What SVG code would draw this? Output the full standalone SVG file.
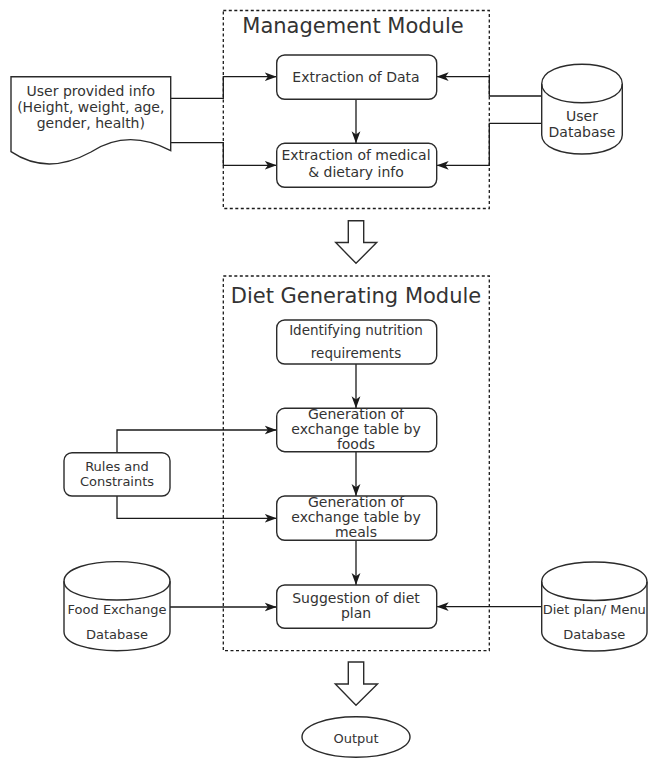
<svg xmlns="http://www.w3.org/2000/svg" width="648" height="758" viewBox="0 0 648 758">
<style>
.bg{fill:#ffffff}
.mod{fill:none;stroke:#1a1a1a;stroke-width:1.3;stroke-dasharray:3 2.5}
.box{fill:#ffffff;stroke:#2b2b2b;stroke-width:1.4}
.ln{fill:none;stroke:#1a1a1a;stroke-width:1.3}
.arr{fill:none;stroke:#1a1a1a;stroke-width:1.3;marker-end:url(#ah)}
.t{font-family:"DejaVu Sans","Liberation Sans",sans-serif;font-size:14px;fill:#333333;text-anchor:middle}
.s13{font-size:13px}
.s135{font-size:13.5px}
.ttl{font-family:"DejaVu Sans","Liberation Sans",sans-serif;font-size:21px;fill:#333333;text-anchor:middle}
</style>
<defs>
<marker id="ah" viewBox="0 0 12 10" refX="12" refY="5" markerWidth="12" markerHeight="10" markerUnits="userSpaceOnUse" orient="auto">
<path d="M0,0.6 L12,5 L0,9.4 L3.2,5 Z" fill="#1a1a1a"/>
</marker>
</defs>
<rect class="bg" x="0" y="0" width="648" height="758"/>

<g id="management-module">
<rect class="mod" x="223.3" y="10.5" width="266" height="198"/>
<text class="ttl" x="353" y="33.3">Management Module</text>
</g>

<g id="diet-module">
<rect class="mod" x="223.3" y="276" width="266" height="374.7"/>
<text class="ttl" x="356" y="303.3">Diet Generating Module</text>
</g>

<g id="connectors">
<path class="arr" d="M170.7,98.3 H223.3 V76.7 H276.7"/>
<path class="arr" d="M170.7,142.7 H223.3 V165.3 H276.7"/>
<path class="arr" d="M541.7,96 H489.3 V76.7 H436.7"/>
<path class="arr" d="M541.7,123.3 H489.3 V165.3 H436.7"/>
<path class="arr" d="M356,99.3 V143.3"/>
<path class="arr" d="M356,364 V408.3"/>
<path class="arr" d="M356,451.7 V496"/>
<path class="arr" d="M356,540.3 V585"/>
<path class="arr" d="M117,452.7 V430 H276.7"/>
<path class="arr" d="M117,496 V518.3 H276.7"/>
<path class="arr" d="M170,607 H276.7"/>
<path class="arr" d="M541.7,606.7 H436.7"/>
<path class="box" d="M348.3,220.7 H363.7 V242.5 H376.7 L356,263.3 L335.7,242.5 H348.3 Z"/>
<path class="box" d="M348.3,662 H363.7 V684 H377.5 L356,705.3 L335.3,684 H348.3 Z"/>
</g>

<g id="user-info">
<path class="box" d="M11,76.7 H170.7 V150.7 Q128,128 91,152 Q47,176 11,151.7 Z"/>
<text class="t" x="90.8" y="96">User provided info</text>
<text class="t" x="90.8" y="111.7">(Height, weight, age,</text>
<text class="t" x="90.8" y="128.3">gender, health)</text>
</g>

<g id="extraction-data">
<rect class="box" x="276.7" y="55" width="160" height="44.3" rx="8"/>
<text class="t" x="356" y="81.5">Extraction of Data</text>
</g>

<g id="extraction-medical">
<rect class="box" x="276.7" y="143.3" width="160" height="44" rx="8"/>
<text class="t" x="356" y="160">Extraction of medical</text>
<text class="t" x="356" y="176.7">&amp; dietary info</text>
</g>

<g id="user-database">
<path class="box" d="M541.7,84 C541.7,57.7 622.3,57.7 622.3,84 L622.3,135 C622.3,160.3 541.7,160.3 541.7,135 Z"/>
<path class="ln" style="stroke:#2b2b2b;stroke-width:1.4" d="M541.7,84 C541.7,109 622.3,109 622.3,84"/>
<text class="t" x="582" y="120.7">User</text>
<text class="t" x="582" y="137.3">Database</text>
</g>

<g id="identifying">
<rect class="box" x="276.7" y="320" width="160" height="44" rx="8"/>
<text class="t s135" x="356" y="335">Identifying nutrition</text>
<text class="t s135" x="356" y="357.7">requirements</text>
</g>

<g id="gen-foods">
<rect class="box" x="276.7" y="408.3" width="160" height="43.4" rx="8"/>
<text class="t" x="356" y="418.6">Generation of</text>
<text class="t" x="356" y="434.3">exchange table by</text>
<text class="t" x="356" y="449.4">foods</text>
</g>

<g id="rules">
<rect class="box" x="64" y="452.7" width="106" height="43.3" rx="8"/>
<text class="t s13" x="117" y="470.7">Rules and</text>
<text class="t s13" x="117" y="485.7">Constraints</text>
</g>

<g id="gen-meals">
<rect class="box" x="276.7" y="496" width="160" height="44.3" rx="8"/>
<text class="t" x="356" y="506.5">Generation of</text>
<text class="t" x="356" y="522.3">exchange table by</text>
<text class="t" x="356" y="537.3">meals</text>
</g>

<g id="suggestion">
<rect class="box" x="276.7" y="585" width="160" height="43.3" rx="8"/>
<text class="t" x="356" y="602.7">Suggestion of diet</text>
<text class="t" x="356" y="618">plan</text>
</g>

<g id="food-exchange-db">
<path class="box" d="M64,581.3 C64,555 170,555 170,581.3 L170,631.7 C170,657 64,657 64,631.7 Z"/>
<path class="ln" style="stroke:#2b2b2b;stroke-width:1.4" d="M64,581.3 C64,606.3 170,606.3 170,581.3"/>
<text class="t s13" x="117" y="614">Food Exchange</text>
<text class="t s13" x="117" y="639.3">Database</text>
</g>

<g id="diet-plan-db">
<path class="box" d="M541.7,581.7 C541.7,555.4 647,555.4 647,581.7 L647,632 C647,657.3 541.7,657.3 541.7,632 Z"/>
<path class="ln" style="stroke:#2b2b2b;stroke-width:1.4" d="M541.7,581.7 C541.7,606.7 647,606.7 647,581.7"/>
<text class="t s13" x="594.3" y="614">Diet plan/ Menu</text>
<text class="t s13" x="594.3" y="639.3">Database</text>
</g>

<g id="output">
<ellipse class="box" cx="356" cy="737" rx="54" ry="20.3"/>
<text class="t s13" x="356" y="742.7">Output</text>
</g>
</svg>
